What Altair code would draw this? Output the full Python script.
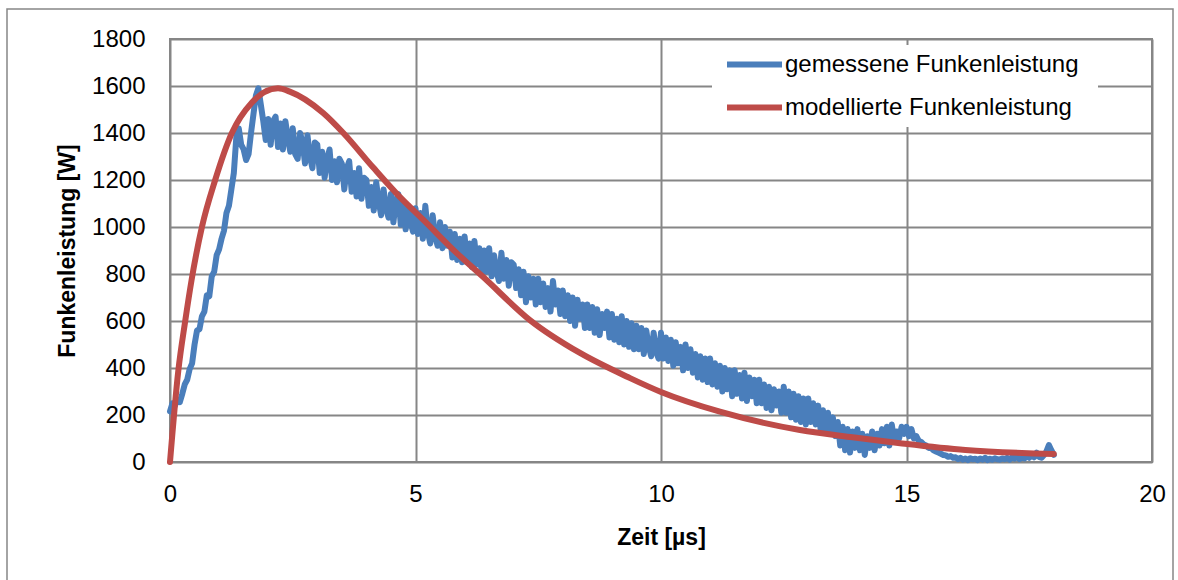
import altair as alt
import pandas as pd

# ---- data ----
series_names = ["gemessene Funkenleistung", "modellierte Funkenleistung"]

# measured spark power [W], sampled every 0.05 µs from 0 to 18 µs
measured_power = [
    215, 250, 240, 265, 255, 290, 330, 350, 395, 420,
    500, 560, 565, 620, 640, 710, 705, 790, 810, 880,
    905, 950, 985, 1060, 1090, 1160, 1230, 1380, 1420, 1350,
    1330, 1285, 1310, 1400, 1480, 1560, 1590, 1520, 1450, 1370,
    1460, 1350, 1450, 1470, 1340, 1440, 1330, 1450, 1380, 1320,
    1420, 1310, 1290, 1400, 1360, 1270, 1390, 1300, 1250, 1360,
    1350, 1230, 1320, 1210, 1290, 1330, 1200, 1280, 1190, 1290,
    1270, 1160, 1250, 1280, 1150, 1230, 1130, 1250, 1120, 1210,
    1200, 1090, 1170, 1070, 1190, 1110, 1050, 1160, 1080, 1040,
    1140, 1020, 1110, 1140, 1010, 1100, 990, 1090, 1020, 980,
    1080, 970, 1060, 950, 1090, 980, 930, 1050, 960, 920,
    1020, 910, 1000, 920, 980, 870, 970, 860, 950, 850,
    960, 850, 930, 830, 940, 840, 910, 800, 900, 810,
    910, 790, 880, 810, 770, 890, 780, 860, 750, 850,
    840, 740, 820, 710, 810, 680, 790, 700, 780, 670,
    780, 680, 760, 660, 740, 640, 770, 670, 730, 630,
    730, 620, 710, 600, 700, 580, 690, 610, 670, 570,
    670, 570, 660, 550, 650, 540, 630, 570, 640, 530,
    630, 520, 610, 510, 620, 500, 600, 490, 590, 480,
    580, 480, 570, 460, 560, 490, 450, 550, 470, 440,
    550, 440, 530, 430, 520, 410, 510, 420, 490, 390,
    500, 400, 480, 380, 460, 360, 450, 350, 440, 340,
    440, 330, 420, 320, 410, 300, 400, 310, 390, 280,
    390, 290, 370, 270, 380, 260, 360, 280, 350, 250,
    350, 250, 330, 230, 320, 220, 310, 240, 300, 210,
    320, 210, 300, 190, 290, 180, 280, 170, 270, 160,
    270, 170, 250, 160, 240, 140, 220, 130, 210, 120,
    190, 110, 170, 70, 150, 50, 140, 40, 130, 60,
    140, 50, 120, 30, 110, 60, 130, 50, 120, 70,
    140, 80, 150, 70, 160, 90, 130, 100, 150, 120,
    150, 110, 140, 100, 110, 90, 85, 75, 70, 60,
    60, 50, 45, 40, 35, 30, 28, 22, 25, 18,
    20, 12, 18, 10, 15, 8, 16, 12, 14, 8,
    15, 10, 18, 8, 14, 10, 16, 12, 10, 15,
    12, 18, 10, 20, 14, 22, 12, 18, 15, 25,
    18, 30, 20, 40, 22, 18, 30, 45, 72, 50,
    30,
]
measured_time = [round(i * 0.05, 2) for i in range(len(measured_power))]

# modelled spark power [W]
model_time = [0, 0.17, 0.31, 0.44, 0.65, 0.92, 1.26, 1.66, 2.2, 2.44, 3.12, 3.53,
              4.13, 4.68, 5.16, 5.84, 6.38, 7.33, 8.35, 9.37, 10, 11.2, 12.83,
              13.9, 14.87, 16.2, 18]
model_power = [0, 390, 600, 775, 1000, 1200, 1400, 1528, 1590, 1576, 1485, 1400,
               1255, 1128, 1030, 889, 787, 604, 464, 357, 298, 214, 136,
               105, 80, 51, 34]

x_ticks = [0, 5, 10, 15, 20]
y_ticks = [0, 200, 400, 600, 800, 1000, 1200, 1400, 1600, 1800]

blue = "#4A7EBB"
red = "#BE4B48"
grid = "#868686"
font = "Liberation Sans"

df_meas = pd.DataFrame({"t": measured_time, "p": measured_power, "s": series_names[0]})
df_model = pd.DataFrame({"t": model_time, "p": model_power, "s": series_names[1]})

color = alt.Color(
    "s:N",
    scale=alt.Scale(domain=series_names, range=[blue, red]),
    legend=alt.Legend(
        title=None, orient="none", legendX=554, legendY=-5,
        symbolType="stroke", symbolSize=3025, symbolStrokeWidth=6,
        labelFont=font, labelFontSize=24, labelColor="black",
        labelOffset=0, rowPadding=0, padding=0,
        labelLimit=600,
    ),
)

x = alt.X("t:Q", scale=alt.Scale(domain=[0, 20], nice=False),
          axis=alt.Axis(values=x_ticks, title="Zeit [µs]", format="d", labelFlush=False))
y = alt.Y("p:Q", scale=alt.Scale(domain=[0, 1800], nice=False),
          axis=alt.Axis(values=y_ticks, title="Funkenleistung [W]", format="d"))

one = pd.DataFrame({"a": [0]})
frame = alt.Chart(one).mark_rect(
    fill=None, stroke=grid, strokeWidth=1.5
).encode(x=alt.value(-163), x2=alt.value(1003), y=alt.value(-30), y2=alt.value(545))

legend_bg = alt.Chart(one).mark_rect(fill="white", stroke=None).encode(
    x=alt.value(542), x2=alt.value(928), y=alt.value(6), y2=alt.value(88))

meas = alt.Chart(df_meas).mark_line(strokeWidth=6, strokeJoin="round", strokeCap="round").encode(
    x=x, y=y, color=color)
model = alt.Chart(df_model).mark_line(strokeWidth=6, interpolate="monotone", strokeCap="round").encode(
    x=x, y=y, color=color)

chart = alt.layer(frame, legend_bg, meas, model).properties(
    width=982, height=423,
    padding={"left": 170, "top": 39, "right": 26, "bottom": 118},
    autosize=alt.AutoSizeParams(type="none"),
).configure_view(
    stroke=grid, strokeWidth=2
).configure_axis(
    domain=False, ticks=False, grid=True, gridColor=grid, gridWidth=2, gridOpacity=1,
    labelFont=font, labelFontSize=24, labelColor="black",
    titleFont=font, titleFontSize=23, titleFontWeight="bold", titleColor="black",
).configure_axisX(
    labelPadding=20, titlePadding=20
).configure_axisY(
    labelPadding=25, titlePadding=12
)

chart.save("out.html", embed_options={"renderer": "svg", "actions": False})
